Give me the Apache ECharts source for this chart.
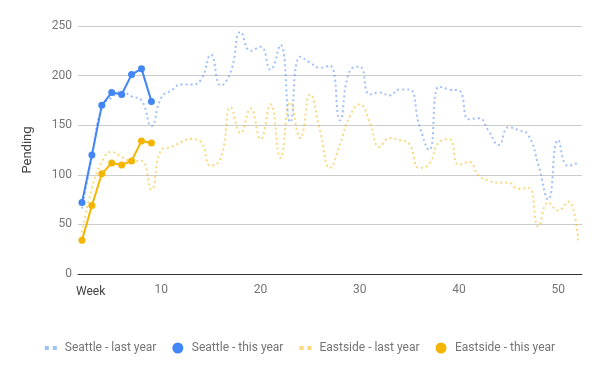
<!DOCTYPE html>
<html>
<head>
<meta charset="utf-8">
<script src="https://cdn.jsdelivr.net/npm/echarts@6/dist/echarts.min.js"></script>
<style>html,body{margin:0;padding:0;background:#fff}#c{width:600px;height:371px}</style>
</head>
<body>
<div id="c"></div>
<script>
const weeksLast = [2,3,4,5,6,7,8,9,10,11,12,13,14,15,16,17,18,19,20,21,22,23,24,25,26,27,28,29,30,31,32,33,34,35,36,37,38,39,40,41,42,43,44,45,46,47,48,49,50,51,52];
const seattleLast = [66,118,168,178,184,179,175,149,178,185,191,191,196,221,190,204,244,225,229,206,231,153,219,213,208,210,155,205,209,181,183,180,186,186,150,125,189,186,185,156,157,144,130,148,145,140,110,75,135,109,112];
const eastsideLast = [42,86,113,123,118,114,114,85,125,128,133,136,133,109,117,168,142,167,136,171,117,173,137,181,144,107,131,159,171,153,128,137,135,131,107,111,133,136,110,113,99,94,92,92,86,87,48,72,64,73,34];
const weeksThis = [2,3,4,5,6,7,8,9];
const seattleThis = [72,120,170,183,181,201,207,174];
const eastsideThis = [34,69,101,112,110,114,134,132];
const xTicks = [10,20,30,40,50];
const yTicks = [0,50,100,150,200,250];

const pair = (xs, ys) => xs.map((x, i) => [x, ys[i]]);
const font = 'Roboto, Arial, sans-serif';
const dotIcon = 'path://M0,0h4v4h-4z M8,0h4v4h-4z';

const chart = echarts.init(document.getElementById('c'), null, {renderer: 'canvas'});
chart.setOption({
  animation: false,
  grid: {left: 78, right: 18, top: 26, bottom: 97, containLabel: false},
  xAxis: {
    type: 'value', min: 1.6, max: 52.4,
    axisLine: {show: true, onZero: false, lineStyle: {color: '#333', width: 1}},
    axisTick: {show: false},
    splitLine: {show: false},
    axisLabel: {customValues: xTicks, color: '#757575', fontSize: 12, fontFamily: font, margin: 10}
  },
  yAxis: {
    type: 'value', min: 0, max: 250, interval: 50,
    name: 'Pending', nameLocation: 'middle', nameGap: 44, nameRotate: 90,
    nameTextStyle: {color: '#444', fontSize: 13, fontFamily: font},
    axisLine: {show: false}, axisTick: {show: false},
    splitLine: {lineStyle: {color: '#cccccc', width: 1}},
    axisLabel: {color: '#757575', fontSize: 12, fontFamily: font, margin: 6}
  },
  graphic: [{
    type: 'text', left: 76, top: 286,
    style: {text: 'Week', fill: '#444', font: '12px ' + font}
  }],
  legend: {
    bottom: 12, left: 'center', itemGap: 16, itemWidth: 12, itemHeight: 11,
    textStyle: {color: '#757575', fontSize: 12, fontFamily: font, padding: [0, 0, 0, 3]},
    data: [
      {name: 'Seattle - last year', icon: dotIcon, itemStyle: {color: 'rgba(66,133,244,0.5)', borderWidth: 0}},
      {name: 'Seattle - this year', icon: 'circle', itemStyle: {color: '#4285F4', borderWidth: 0}},
      {name: 'Eastside - last year', icon: dotIcon, itemStyle: {color: 'rgba(244,180,0,0.5)', borderWidth: 0}},
      {name: 'Eastside - this year', icon: 'circle', itemStyle: {color: '#F4B400', borderWidth: 0}}
    ]
  },
  series: [
    {name: 'Seattle - last year', type: 'line', data: pair(weeksLast, seattleLast), smooth: 0.5,
     showSymbol: false, symbol: 'none', z: 1,
     itemStyle: {color: 'rgba(66,133,244,0.5)'},
     lineStyle: {color: 'rgba(66,133,244,0.5)', width: 2, type: [2, 3]}},
    {name: 'Seattle - this year', type: 'line', data: pair(weeksThis, seattleThis),
     symbol: 'circle', symbolSize: 7, z: 3,
     itemStyle: {color: '#4285F4'}, lineStyle: {color: '#4285F4', width: 2}},
    {name: 'Eastside - last year', type: 'line', data: pair(weeksLast, eastsideLast), smooth: 0.5,
     showSymbol: false, symbol: 'none', z: 2,
     itemStyle: {color: 'rgba(244,180,0,0.5)'},
     lineStyle: {color: 'rgba(244,180,0,0.5)', width: 2, type: [2, 3]}},
    {name: 'Eastside - this year', type: 'line', data: pair(weeksThis, eastsideThis),
     symbol: 'circle', symbolSize: 7, z: 4,
     itemStyle: {color: '#F4B400'}, lineStyle: {color: '#F4B400', width: 2}}
  ]
});
</script>
</body>
</html>
